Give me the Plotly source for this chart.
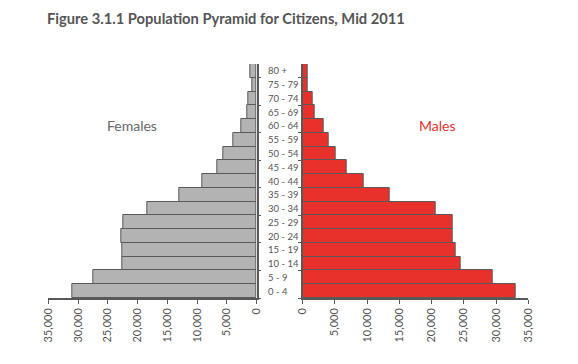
import plotly.graph_objects as go

age_groups = ["0 - 4", "5 - 9", "10 - 14", "15 - 19", "20 - 24", "25 - 29", "30 - 34",
              "35 - 39", "40 - 44", "45 - 49", "50 - 54", "55 - 59", "60 - 64",
              "65 - 69", "70 - 74", "75 - 79", "80 +"]
females = [31000, 27400, 22600, 22600, 22800, 22400, 18350, 13000, 9100, 6700,
           5600, 4000, 2600, 1600, 1350, 700, 1000]
males = [33000, 29400, 24500, 23700, 23300, 23300, 20700, 13500, 9400, 6850,
         5100, 4000, 3200, 1800, 1500, 750, 850]
x_ticks = [0, 5000, 10000, 15000, 20000, 25000, 30000, 35000]

# page has an 8px body margin, so the figure is drawn 8px in from the window edge
OFF = 8
W, H = 578 - 2 * OFF, 364 - 2 * OFF
FONT = "Lato"
DARK = "#595959"
TXT = "#555555"

TOP = 63.5 - OFF
BOT = 298 - OFF
PH = BOT - TOP


def px_x(x):
    return (x - OFF) / W


def px_y(y):
    return (BOT - (y - OFF)) / PH


fig = go.Figure()
fig.add_trace(go.Bar(y=age_groups, x=females, orientation="h", xaxis="x", yaxis="y",
                     marker=dict(color="#b3b3b3", line=dict(color=DARK, width=1)),
                     showlegend=False, hoverinfo="skip"))
fig.add_trace(go.Bar(y=age_groups, x=males, orientation="h", xaxis="x2", yaxis="y2",
                     marker=dict(color="#e8312a", line=dict(color=DARK, width=1)),
                     showlegend=False, hoverinfo="skip"))

xcommon = dict(showgrid=False, zeroline=False, showline=True, linecolor=DARK, linewidth=1.5,
               ticks="outside", ticklen=4, tickcolor=DARK, tickangle=-90,
               tickvals=x_ticks, tickformat=",", automargin=False,
               tickfont=dict(family=FONT, size=11, color=TXT))
ycommon = dict(type="category", categoryorder="array", categoryarray=age_groups,
               range=[-0.5, len(age_groups) - 0.5], showgrid=False, zeroline=False,
               showline=True, linecolor=DARK, linewidth=1.5, ticks="outside", ticklen=3,
               tickcolor=DARK, tickson="boundaries", showticklabels=False, automargin=False)

fig.update_layout(
    width=W, height=H,
    margin=dict(l=0, r=0, t=TOP, b=H - BOT),
    paper_bgcolor="white", plot_bgcolor="white",
    bargap=0,
    xaxis=dict(domain=[px_x(48.3), px_x(256.7)], range=[35000, 0], anchor="y", **xcommon),
    xaxis2=dict(domain=[px_x(302.7), px_x(528.3)], range=[0, 35000], anchor="y2", **xcommon),
    yaxis=dict(anchor="x", side="right", **ycommon),
    yaxis2=dict(anchor="x2", side="left", **ycommon),
    title=dict(text="<b>Figure 3.1.1 Population Pyramid for Citizens, Mid 2011</b>",
               x=px_x(47), xanchor="left", xref="paper", yref="container",
               y=1 - (19 - OFF) / H, yanchor="middle",
               font=dict(family=FONT, size=14.7, color=TXT)),
)

for g in age_groups:
    fig.add_annotation(x=px_x(265.5), xref="paper", y=g, yref="y2", text=g, showarrow=False,
                       xanchor="left", yanchor="middle",
                       font=dict(family=FONT, size=9.5, color=TXT))

fig.add_annotation(x=px_x(131.7), xref="paper", y=px_y(125.5), yref="paper", text="Females",
                   showarrow=False, xanchor="center", yanchor="middle",
                   font=dict(family=FONT, size=14, color="#666666"))
fig.add_annotation(x=px_x(437.7), xref="paper", y=px_y(125), yref="paper", text="Males",
                   showarrow=False, xanchor="center", yanchor="middle",
                   font=dict(family=FONT, size=14, color="#e8312a"))

fig.write_html("out.html")
